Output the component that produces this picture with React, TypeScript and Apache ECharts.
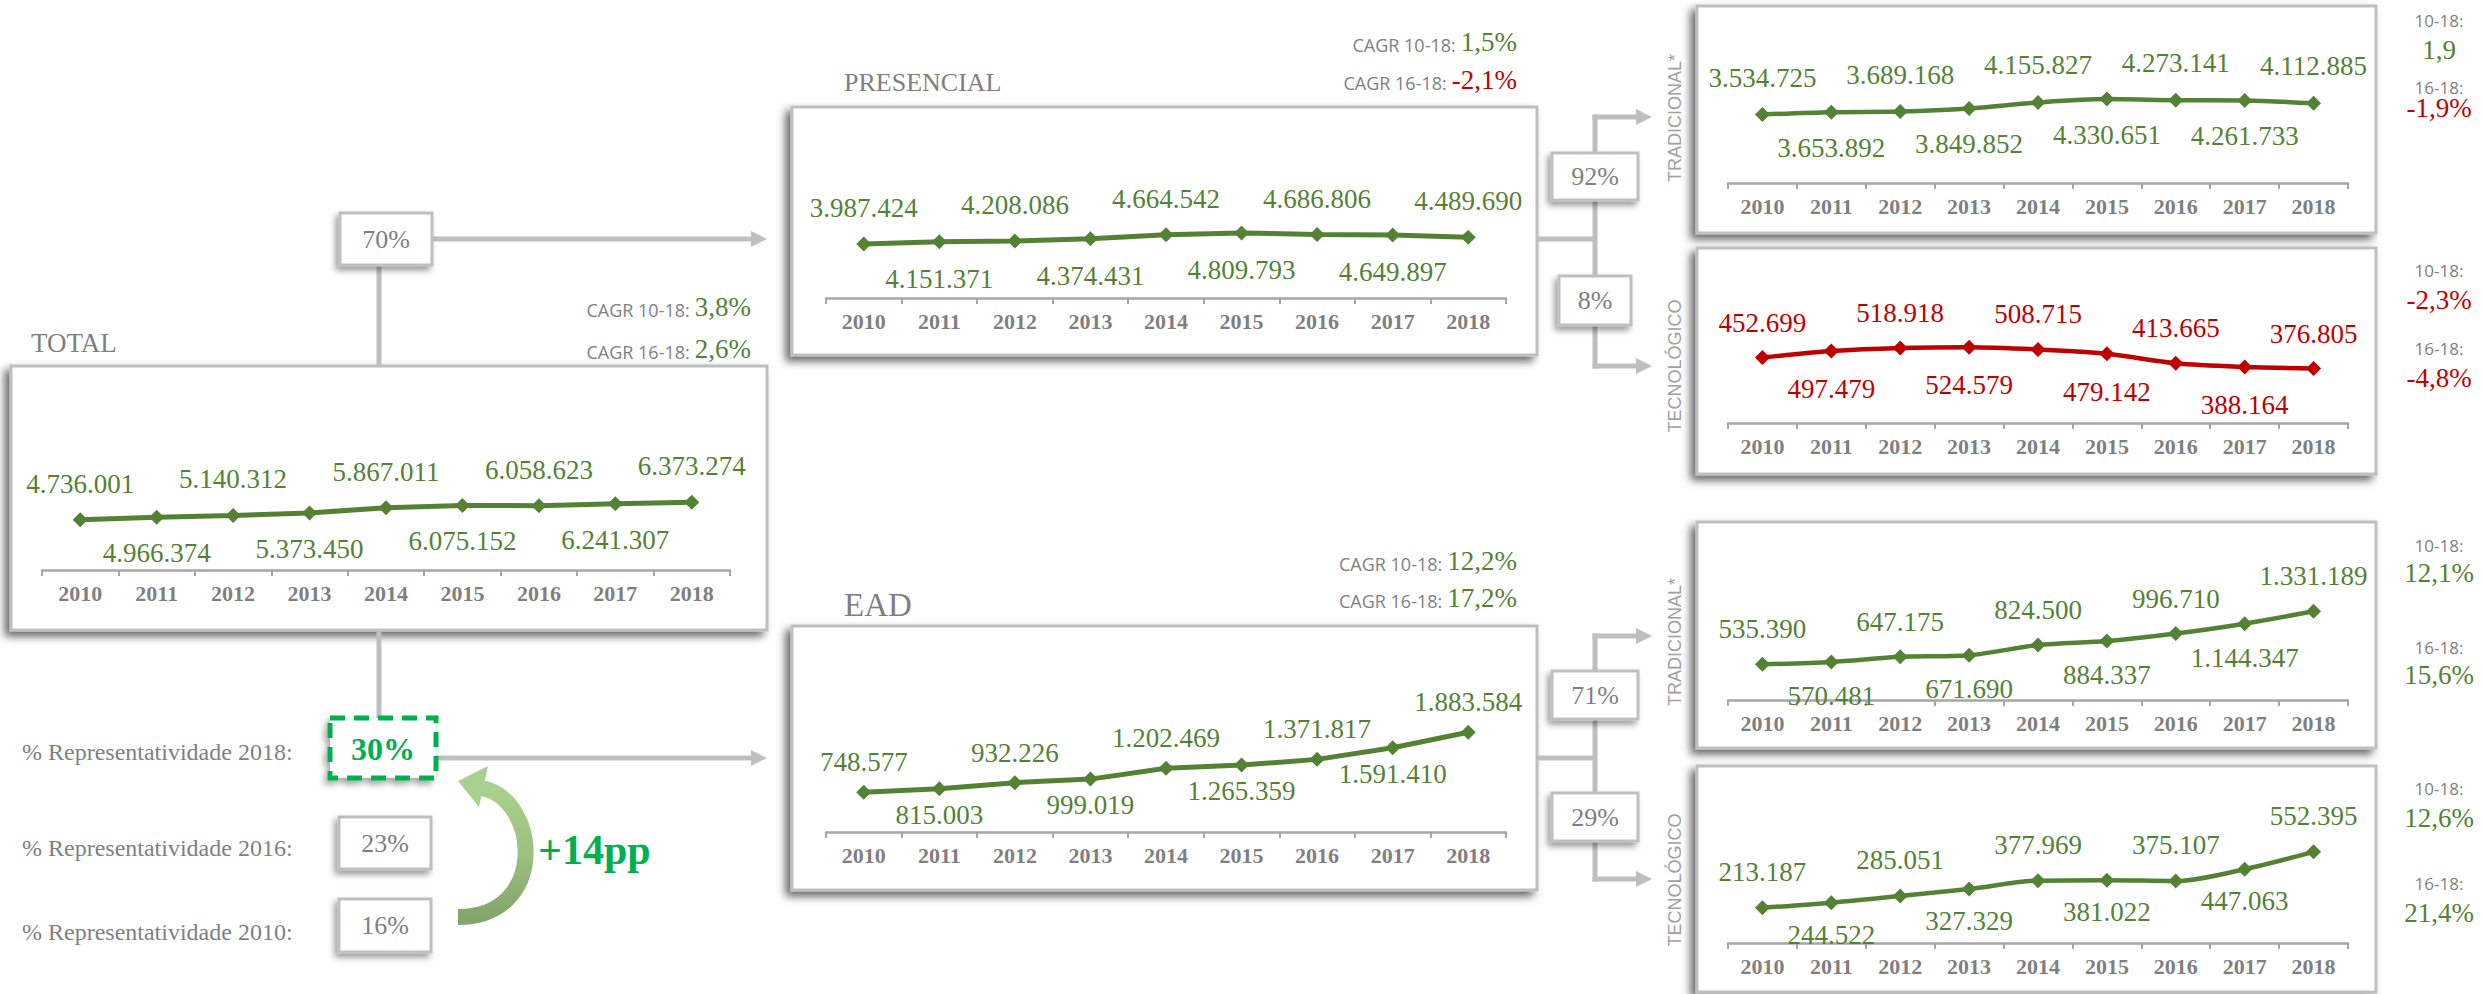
import React, { useEffect, useRef } from 'react';
import * as echarts from 'echarts';

// ---------- DATA ----------
const years = ['2010', '2011', '2012', '2013', '2014', '2015', '2016', '2017', '2018'];
const totalValues = [4736001, 4966374, 5140312, 5373450, 5867011, 6075152, 6058623, 6241307, 6373274];
const presencialValues = [3987424, 4151371, 4208086, 4374431, 4664542, 4809793, 4686806, 4649897, 4489690];
const eadValues = [748577, 815003, 932226, 999019, 1202469, 1265359, 1371817, 1591410, 1883584];
const presTradValues = [3534725, 3653892, 3689168, 3849852, 4155827, 4330651, 4273141, 4261733, 4112885];
const presTecValues = [452699, 497479, 518918, 524579, 508715, 479142, 413665, 388164, 376805];
const eadTradValues = [535390, 570481, 647175, 671690, 824500, 884337, 996710, 1144347, 1331189];
const eadTecValues = [213187, 244522, 285051, 327329, 377969, 381022, 375107, 447063, 552395];

const sectionTitles = ['TOTAL', 'PRESENCIAL', 'EAD'];
const cagrLabels = ['CAGR 10-18:', 'CAGR 16-18:'];
const shortCagrLabels = ['10-18:', '16-18:'];
const cagrTotal = ['3,8%', '2,6%'];
const cagrPresencial = ['1,5%', '-2,1%'];
const cagrEad = ['12,2%', '17,2%'];
const cagrPresTrad = ['1,9', '-1,9%'];
const cagrPresTec = ['-2,3%', '-4,8%'];
const cagrEadTrad = ['12,1%', '15,6%'];
const cagrEadTec = ['12,6%', '21,4%'];
const sideLabels = ['TRADICIONAL*', 'TECNOLÓGICO'];
const shareTotal = ['70%', '30%'];
const sharePresencial = ['92%', '8%'];
const shareEad = ['71%', '29%'];
const repLabels = ['% Representatividade 2018:', '% Representatividade 2016:', '% Representatividade 2010:'];
const repValues = ['30%', '23%', '16%'];
const repDelta = '+14pp';

// ---------- STYLE ----------
const GREEN = '#548235';
const RED = '#c00000';
const GRAY_TXT = '#7f7f7f';
const CONN = '#bfbfbf';
const BRIGHT = '#00b050';
const SERIF = "'Liberation Serif', 'Times New Roman', serif";
const SANS = "'Open Sans', 'Liberation Sans', sans-serif";
const ARIAL = "'Liberation Sans', Arial, sans-serif";

const fmt = (v: number) => String(v).replace(/\B(?=(\d{3})+(?!\d))/g, '.');
const valColor = (s: string) => (s.trim().startsWith('-') ? RED : GREEN);

let measureCtx: CanvasRenderingContext2D | null = null;
function measure(t: string, font: string) {
  if (!measureCtx) measureCtx = document.createElement('canvas').getContext('2d');
  if (!measureCtx) return t.length * 13;
  measureCtx.font = font;
  return measureCtx.measureText(t).width;
}

const panels = [
  { values: totalValues, color: GREEN, left: 42, width: 688, top: 400, height: 170, max: 16e6, up: 15, down: 15, smooth: false, lw: 5 },
  { values: presencialValues, color: GREEN, left: 826, width: 680, top: 122, height: 176, max: 13e6, up: 15, down: 16, smooth: false, lw: 5 },
  { values: eadValues, color: GREEN, left: 826, width: 680, top: 652, height: 180, max: 3.4e6, up: 9, down: 5, smooth: false, lw: 5 },
  { values: presTradValues, color: GREEN, left: 1728, width: 620, top: 28, height: 155, max: 8e6, up: 16, down: 15, smooth: 0.3, lw: 4.5 },
  { values: presTecValues, color: RED, left: 1728, width: 620, top: 264, height: 159, max: 1.1e6, up: 14, down: 17, smooth: 0.3, lw: 4.5 },
  { values: eadTradValues, color: GREEN, left: 1728, width: 620, top: 540, height: 160, max: 2.4e6, up: 14, down: 13, smooth: 0.3, lw: 4.5 },
  { values: eadTecValues, color: GREEN, left: 1728, width: 620, top: 778, height: 165, max: 1e6, up: 15, down: 11, smooth: 0.3, lw: 4.5 },
];

function box(x: number, y: number, w: number, h: number) {
  return {
    type: 'rect', z: 1,
    shape: { x, y, width: w, height: h },
    style: {
      fill: '#ffffff', stroke: CONN, lineWidth: 3,
      shadowBlur: 8, shadowOffsetX: -5, shadowOffsetY: 5, shadowColor: 'rgba(0,0,0,0.6)',
    },
  };
}

function shareBox(x: number, y: number, w: number, h: number, text: string) {
  return [
    {
      type: 'rect', z: 3,
      shape: { x, y, width: w, height: h },
      style: {
        fill: '#ffffff', stroke: CONN, lineWidth: 3,
        shadowBlur: 6, shadowOffsetX: -3, shadowOffsetY: 4, shadowColor: 'rgba(0,0,0,0.4)',
      },
    },
    {
      type: 'text', z: 4, x: x + w / 2, y: y + h / 2,
      style: { text, fill: GRAY_TXT, font: `26px ${SERIF}`, align: 'center', verticalAlign: 'middle' },
    },
  ];
}

function line(x1: number, y1: number, x2: number, y2: number) {
  return { type: 'line', z: 2, shape: { x1, y1, x2, y2 }, style: { stroke: CONN, lineWidth: 5 } };
}

function arrowRight(x1: number, x2: number, y: number) {
  return [
    line(x1, y, x2 - 13, y),
    { type: 'polygon', z: 2, shape: { points: [[x2 - 16, y - 8], [x2, y], [x2 - 16, y + 8]] }, style: { fill: CONN } },
  ];
}

function text(x: number, y: number, t: string, font: string, fill: string, align = 'left') {
  return { type: 'text', z: 4, x, y, style: { text: t, fill, font, align, verticalAlign: 'middle' } };
}

function cagr(xRight: number, y: number, label: string, value: string) {
  const vFont = `27px ${SERIF}`;
  const lFont = `18px ${SANS}`;
  const vw = measure(value, vFont);
  return [
    text(xRight, y, value, vFont, valColor(value), 'right'),
    text(xRight - vw - 5, y + 3, label, lFont, GRAY_TXT, 'right'),
  ];
}

function sideCagr(yTopLabel: number, yTopVal: number, yBotLabel: number, yBotVal: number, vals: string[]) {
  const cx = 2439;
  return [
    text(cx, yTopLabel, shortCagrLabels[0], `17px ${SANS}`, GRAY_TXT, 'center'),
    text(cx, yTopVal, vals[0], `27px ${SERIF}`, valColor(vals[0]), 'center'),
    text(cx, yBotLabel, shortCagrLabels[1], `17px ${SANS}`, GRAY_TXT, 'center'),
    text(cx, yBotVal, vals[1], `27px ${SERIF}`, valColor(vals[1]), 'center'),
  ];
}

function sideLabel(x: number, y: number, t: string) {
  return {
    type: 'text', z: 4, x, y, rotation: Math.PI / 2,
    style: { text: t, fill: '#a0a0a0', font: `18px ${ARIAL}`, align: 'center', verticalAlign: 'middle' },
  };
}

export default function App() {
  const ref = useRef<HTMLDivElement>(null);
  useEffect(() => {
    if (!ref.current) return;
    const chart = echarts.init(ref.current, null, { renderer: 'svg' });

    const grids = panels.map((p) => ({ left: p.left, top: p.top, width: p.width, height: p.height, containLabel: false }));
    const xAxes = panels.map((p, i) => ({
      type: 'category', gridIndex: i, data: years, z: 10,
      axisLine: { lineStyle: { color: '#a6a6a6', width: 2.5 } },
      axisTick: { show: true, length: 6, lineStyle: { color: '#a6a6a6', width: 2 } },
      axisLabel: { color: GRAY_TXT, fontFamily: SERIF, fontWeight: 'bold', fontSize: 22, margin: 12 },
      splitLine: { show: false },
    }));
    const yAxes = panels.map((p, i) => ({
      type: 'value', gridIndex: i, min: 0, max: p.max, show: false, splitLine: { show: false },
    }));
    const series = panels.map((p, i) => ({
      type: 'line', xAxisIndex: i, yAxisIndex: i, z: 12,
      smooth: p.smooth,
      symbol: 'diamond', symbolSize: 15,
      itemStyle: { color: p.color },
      lineStyle: { color: p.color, width: p.lw },
      label: {
        show: true, color: p.color, fontFamily: SERIF, fontSize: 27,
        formatter: (d: any) => fmt(d.value),
      },
      data: p.values.map((v, k) => ({
        value: v,
        label: { position: k % 2 === 0 ? 'top' : 'bottom', distance: k % 2 === 0 ? p.up : p.down },
      })),
    }));

    const curveGrad = {
      type: 'linear', x: 0, y: 0, x2: 0, y2: 1,
      colorStops: [
        { offset: 0, color: '#a9d18e' },
        { offset: 0.5, color: '#9cc07f' },
        { offset: 1, color: '#84a66a' },
      ],
    };

    const elements: any[] = [
      // chart boxes
      box(11, 366, 756, 264),
      box(792, 107, 745, 248),
      box(792, 626, 745, 264),
      box(1697, 6, 679, 227),
      box(1697, 248, 679, 226),
      box(1697, 522, 679, 226),
      box(1697, 766, 679, 226),

      // section titles
      text(31, 343, sectionTitles[0], `27px ${SERIF}`, GRAY_TXT),
      text(844, 82, sectionTitles[1], `26px ${SERIF}`, GRAY_TXT),
      text(844, 605, sectionTitles[2], `33px ${SERIF}`, GRAY_TXT),

      // CAGR
      ...cagr(751, 307, cagrLabels[0], cagrTotal[0]),
      ...cagr(751, 349, cagrLabels[1], cagrTotal[1]),
      ...cagr(1517, 42, cagrLabels[0], cagrPresencial[0]),
      ...cagr(1517, 80, cagrLabels[1], cagrPresencial[1]),
      ...cagr(1517, 561, cagrLabels[0], cagrEad[0]),
      ...cagr(1517, 598, cagrLabels[1], cagrEad[1]),
      ...sideCagr(20, 50, 87, 108, cagrPresTrad),
      ...sideCagr(270, 300, 348, 378, cagrPresTec),
      ...sideCagr(545, 573, 647, 675, cagrEadTrad),
      ...sideCagr(788, 818, 883, 913, cagrEadTec),

      // side labels
      sideLabel(1675, 118, sideLabels[0]),
      sideLabel(1675, 366, sideLabels[1]),
      sideLabel(1675, 642, sideLabels[0]),
      sideLabel(1675, 880, sideLabels[1]),

      // connectors total
      line(379, 262, 379, 366),
      ...arrowRight(432, 767, 239),
      line(379, 630, 379, 720),
      ...arrowRight(436, 767, 758),

      // connectors presencial
      line(1537, 239, 1595, 239),
      line(1595, 114.5, 1595, 368.5),
      ...arrowRight(1592.5, 1652, 117),
      ...arrowRight(1592.5, 1652, 366),

      // connectors EAD
      line(1537, 758, 1595, 758),
      line(1595, 633.5, 1595, 881.5),
      ...arrowRight(1592.5, 1652, 636),
      ...arrowRight(1592.5, 1652, 879),

      // share boxes
      ...shareBox(340, 213, 92, 52, shareTotal[0]),
      ...shareBox(1552, 153, 86, 47, sharePresencial[0]),
      ...shareBox(1559, 276, 72, 49, sharePresencial[1]),
      ...shareBox(1552, 671, 86, 48, shareEad[0]),
      ...shareBox(1552, 793, 86, 48, shareEad[1]),

      // representatividade
      text(22, 752, repLabels[0], `24px ${SERIF}`, GRAY_TXT),
      text(22, 848, repLabels[1], `24px ${SERIF}`, GRAY_TXT),
      text(22, 932, repLabels[2], `24px ${SERIF}`, GRAY_TXT),
      {
        type: 'rect', z: 3,
        shape: { x: 330, y: 718, width: 106, height: 60 },
        style: {
          fill: '#ffffff', stroke: BRIGHT, lineWidth: 5, lineDash: [15, 9],
          shadowBlur: 6, shadowOffsetX: -3, shadowOffsetY: 4, shadowColor: 'rgba(0,0,0,0.35)',
        },
      },
      text(383, 749, repValues[0], `bold 32px ${SERIF}`, BRIGHT, 'center'),
      ...shareBox(339, 817, 92, 52, repValues[1]),
      ...shareBox(339, 899, 92, 53, repValues[2]),

      // curved arrow
      {
        type: 'bezierCurve', z: 3,
        shape: { x1: 458, y1: 917, cpx1: 548, cpy1: 917, cpx2: 540, cpy2: 800, x2: 482, y2: 788 },
        style: { stroke: curveGrad, lineWidth: 16, fill: null },
      },
      {
        type: 'polygon', z: 3,
        shape: { points: [[458, 781], [488, 766], [479, 807]] },
        style: { fill: '#a9d18e' },
      },
      text(538, 850, repDelta, `bold 42px ${SERIF}`, BRIGHT),
    ];

    chart.setOption({
      animation: false,
      backgroundColor: '#ffffff',
      grid: grids,
      xAxis: xAxes,
      yAxis: yAxes,
      series,
      graphic: { elements },
    });
    return () => chart.dispose();
  }, []);

  return (
    <div
      ref={ref}
      style={{ position: 'fixed', left: 0, top: 0, width: 2484, height: 994, background: '#fff' }}
    />
  );
}
